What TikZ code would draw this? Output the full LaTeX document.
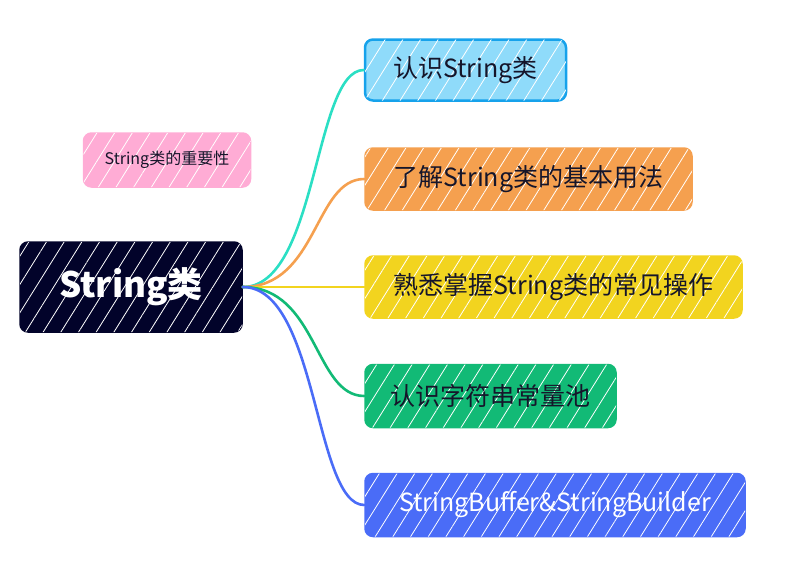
\documentclass[tikz,border=0pt]{standalone}
\usepackage{fontspec}
\newfontfamily\cjk{Noto Sans CJK SC}
\usetikzlibrary{patterns.meta}

\definecolor{rootnavy}{HTML}{02032A}
\definecolor{skyfill}{HTML}{8FDBFA}
\definecolor{skyline}{HTML}{16A2EB}
\definecolor{orangebox}{HTML}{F5A04F}
\definecolor{yellowbox}{HTML}{F2D41F}
\definecolor{greenbox}{HTML}{12BA76}
\definecolor{bluebox}{HTML}{4A6CF7}
\definecolor{pinkbox}{HTML}{FFACD5}
\definecolor{tealline}{HTML}{2BDFC4}
\definecolor{inktext}{HTML}{15152A}

\tikzset{
  box/.style={draw, line width=1.5pt, rounded corners=8pt, align=center,
    inner xsep=0pt, inner ysep=0pt, text=inktext,
    font=\cjk\fontsize{25}{25}\selectfont,
    postaction={pattern={Lines[angle=58,distance=15pt,line width=0.8pt]},
      pattern color=white, fill opacity=0.4}},
  link/.style={line width=2.6pt, line cap=round},
}

\begin{document}
\begin{tikzpicture}[x=1pt,y=-1pt]
  \useasboundingbox (0,0) rectangle (805,571);

  % the main topic
  \node[box, draw=rootnavy, fill=rootnavy, text=white, minimum width=222pt, minimum height=90pt,
    font=\cjk\bfseries\fontsize{35}{35}\selectfont] (root) at (131,287) {String类};

  % the floating topic
  \node[box, draw=pinkbox, fill=pinkbox, minimum width=167pt, minimum height=54pt,
    font=\cjk\fontsize{16}{16}\selectfont] (why) at (167,160) {String类的重要性};

  % the sub topics
  \node[box, draw=skyline, fill=skyfill, line width=2.5pt, minimum width=201pt, minimum height=61pt] (know) at (465.5,70) {认识String类};
  \node[box, draw=orangebox, fill=orangebox, minimum width=327pt, minimum height=62pt] (use) at (528.5,179) {了解String类的基本用法};
  \node[box, draw=yellowbox, fill=yellowbox, minimum width=377pt, minimum height=62pt] (ops) at (553.5,287) {熟悉掌握String类的常见操作};
  \node[box, draw=greenbox, fill=greenbox, minimum width=251pt, minimum height=63pt] (pool) at (490.5,396) {认识字符串常量池};
  \node[box, draw=bluebox, fill=bluebox, text=white, minimum width=380pt, minimum height=63pt] (buf) at (555,505) {StringBuffer\&StringBuilder};

  % the branches
  \draw[link, tealline] (root.east) .. controls +(75,0) and +(-50,0) .. (know.west);
  \draw[link, orangebox] (root.east) .. controls +(75,0) and +(-50,0) .. (use.west);
  \draw[link, yellowbox] (root.east) -- (ops.west);
  \draw[link, greenbox] (root.east) .. controls +(75,0) and +(-50,0) .. (pool.west);
  \draw[link, bluebox] (root.east) .. controls +(75,0) and +(-50,0) .. (buf.west);

\end{tikzpicture}
\end{document}
